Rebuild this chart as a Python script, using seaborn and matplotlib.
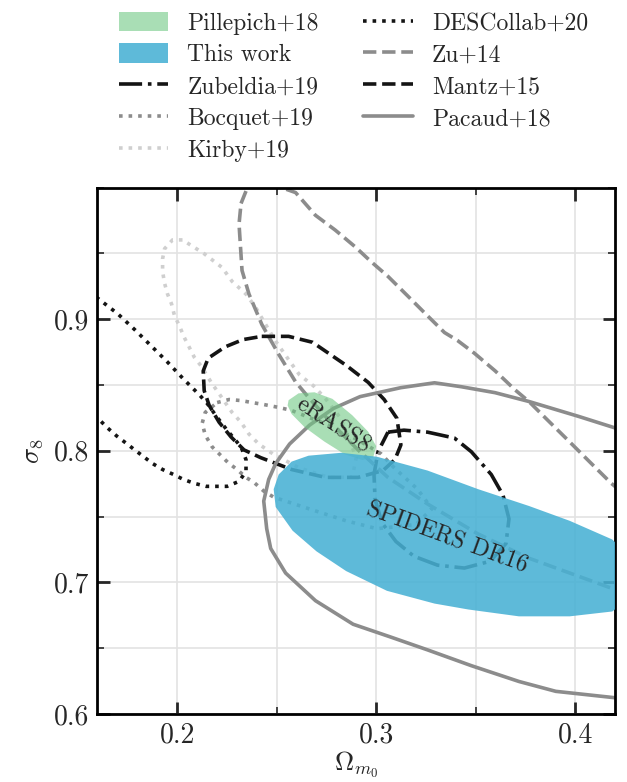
import numpy as np
import matplotlib
matplotlib.use("Agg")
import matplotlib.pyplot as plt
import seaborn as sns
from matplotlib.ticker import MultipleLocator

# contour vertices (Omega_m0, sigma_8)
pillepich_x = [0.2560, 0.2610, 0.2690, 0.2780, 0.2880, 0.2960, 0.3000, 0.2985, 0.2930, 0.2840, 0.2740, 0.2640, 0.2575, 0.2555]
pillepich_y = [0.8385, 0.8437, 0.8445, 0.8395, 0.8270, 0.8145, 0.8035, 0.7950, 0.7930, 0.7975, 0.8070, 0.8180, 0.8280, 0.8345]

thiswork_x = [0.2485, 0.2510, 0.2575, 0.2660, 0.2824, 0.3004, 0.3258, 0.3513, 0.3767, 0.3972, 0.4186, 0.4306,
              0.4306, 0.4186, 0.3972, 0.3717, 0.3463, 0.3293, 0.3054, 0.2849, 0.2700, 0.2580, 0.2495]
thiswork_y = [0.7708, 0.7820, 0.7918, 0.7963, 0.7985, 0.7955, 0.7850, 0.7708, 0.7581, 0.7468, 0.7326, 0.7146,
              0.6921, 0.6779, 0.6742, 0.6742, 0.6794, 0.6839, 0.6936, 0.7086, 0.7236, 0.7393, 0.7573]

zubeldia_x = [0.3059, 0.3139, 0.3258, 0.3393, 0.3478, 0.3578, 0.3637, 0.3667, 0.3652, 0.3573, 0.3443, 0.3308,
              0.3189, 0.3099, 0.3029, 0.2994, 0.2989, 0.3009, 0.3059]
zubeldia_y = [0.8142, 0.8157, 0.8142, 0.8097, 0.7993, 0.7820, 0.7663, 0.7483, 0.7296, 0.7161, 0.7109, 0.7131,
              0.7199, 0.7311, 0.7453, 0.7633, 0.7820, 0.7993, 0.8142]

bocquet_x = [0.2201, 0.2261, 0.2321, 0.2376, 0.2435, 0.2510, 0.2575, 0.2760, 0.2909, 0.3024, 0.3089, 0.3208,
             0.3280, 0.3200, 0.3004, 0.2849, 0.2665, 0.2485, 0.2436, 0.2386, 0.2346, 0.2301, 0.2256, 0.2216,
             0.2176, 0.2141, 0.2126, 0.2141, 0.2201]
bocquet_y = [0.8367, 0.8390, 0.8382, 0.8367, 0.8352, 0.8330, 0.8307, 0.8195, 0.8082, 0.7978, 0.7873, 0.7708,
             0.7560, 0.7440, 0.7408, 0.7468, 0.7558, 0.7648, 0.7693, 0.7760, 0.7798, 0.7858, 0.7910, 0.7970,
             0.8030, 0.8120, 0.8210, 0.8292, 0.8367]

kirby_x = [0.2027, 0.1977, 0.1937, 0.1927, 0.1927, 0.1937, 0.1952, 0.1972, 0.1987, 0.2011, 0.2036, 0.2061,
           0.2086, 0.2121, 0.2151, 0.2176, 0.2211, 0.2276, 0.2321, 0.2361, 0.2410, 0.2480, 0.2610, 0.2760,
           0.2880, 0.2900, 0.2820, 0.2745, 0.2685, 0.2615, 0.2565, 0.2496, 0.2445, 0.2396, 0.2346, 0.2276,
           0.2226, 0.2136, 0.2027]
kirby_y = [0.9603, 0.9603, 0.9536, 0.9460, 0.9363, 0.9273, 0.9191, 0.9116, 0.9026, 0.8951, 0.8861, 0.8787,
           0.8712, 0.8644, 0.8569, 0.8509, 0.8434, 0.8292, 0.8217, 0.8127, 0.8052, 0.7978, 0.7873, 0.7798,
           0.7800, 0.7950, 0.8250, 0.8397, 0.8494, 0.8577, 0.8682, 0.8831, 0.8959, 0.9086, 0.9191, 0.9288,
           0.9393, 0.9498, 0.9603]

des_x = [0.1550, 0.1600, 0.1702, 0.1787, 0.1872, 0.1952, 0.2031, 0.2111, 0.2151, 0.2201, 0.2251, 0.2321,
         0.2346, 0.2346, 0.2311, 0.2251, 0.2201, 0.2146, 0.2086, 0.2031, 0.1982, 0.1927, 0.1877, 0.1832,
         0.1787, 0.1742, 0.1697, 0.1652, 0.1612, 0.1560]
des_y = [0.9200, 0.9161, 0.9041, 0.8921, 0.8794, 0.8674, 0.8547, 0.8427, 0.8360, 0.8255, 0.8157, 0.8030,
         0.7933, 0.7843, 0.7768, 0.7730, 0.7730, 0.7730, 0.7753, 0.7783, 0.7820, 0.7858, 0.7903, 0.7955,
         0.8007, 0.8060, 0.8112, 0.8172, 0.8232, 0.8280]

zu_x = [0.2321, 0.2351, 0.2420, 0.2525, 0.2595, 0.2695, 0.2794, 0.2894, 0.2974, 0.3059, 0.3159, 0.3258,
        0.3343, 0.3408, 0.3493, 0.3598, 0.3697, 0.3767, 0.3852, 0.3967, 0.4071, 0.4181, 0.4306, 0.4306,
        0.4176, 0.3767, 0.3508, 0.3258, 0.3059, 0.2909, 0.2785, 0.2665, 0.2595, 0.2510, 0.2426, 0.2361,
        0.2326, 0.2311, 0.2321]
zu_y = [0.9880, 0.9993, 1.0038, 1.0000, 0.9963, 0.9790, 0.9678, 0.9551, 0.9438, 0.9326, 0.9176, 0.9026,
        0.8899, 0.8839, 0.8742, 0.8607, 0.8464, 0.8375, 0.8247, 0.8075, 0.7918, 0.7753, 0.7596, 0.7034,
        0.6959, 0.7184, 0.7371, 0.7596, 0.7798, 0.8007, 0.8195, 0.8397, 0.8524, 0.8734, 0.8959, 0.9191,
        0.9371, 0.9723, 0.9880]

mantz_x = [0.2425, 0.2560, 0.2680, 0.2849, 0.2960, 0.3040, 0.3104, 0.3124, 0.3094, 0.3034, 0.2909, 0.2745,
           0.2575, 0.2420, 0.2336, 0.2271, 0.2211, 0.2161, 0.2136, 0.2131, 0.2156, 0.2241, 0.2330, 0.2425]
mantz_y = [0.8870, 0.8870, 0.8825, 0.8650, 0.8520, 0.8390, 0.8247, 0.8045, 0.7933, 0.7850, 0.7798, 0.7798,
           0.7858, 0.7948, 0.8007, 0.8105, 0.8217, 0.8345, 0.8457, 0.8607, 0.8704, 0.8790, 0.8845, 0.8870]

pacaud_x = [0.4250, 0.4016, 0.3767, 0.3597, 0.3428, 0.3293, 0.3124, 0.2919, 0.2785, 0.2665, 0.2565, 0.2495,
            0.2460, 0.2435, 0.2450, 0.2470, 0.2545, 0.2695, 0.2884, 0.3074, 0.3258, 0.3478, 0.3717, 0.3902,
            0.4250]
pacaud_y = [0.8150, 0.8262, 0.8375, 0.8442, 0.8487, 0.8517, 0.8480, 0.8412, 0.8322, 0.8195, 0.8052, 0.7903,
            0.7783, 0.7618, 0.7408, 0.7258, 0.7071, 0.6861, 0.6682, 0.6584, 0.6487, 0.6367, 0.6247, 0.6172,
            0.6115]

sns.set_style("ticks")
plt.rcParams['font.family'] = 'serif'
plt.rcParams['font.serif'] = ['cmr10', 'DejaVu Serif']
plt.rcParams['mathtext.fontset'] = 'cm'
plt.rcParams['axes.formatter.use_mathtext'] = True
plt.rcParams['axes.unicode_minus'] = False

fig = plt.figure(figsize=(6.27, 7.82), dpi=100)
ax = fig.add_axes([0.1555, 0.0870, 0.8255, 0.6730])

GRAY = '#8c8c8c'
LGRAY = '#cfcfcf'
lw = 2.6

# line contours
sns.lineplot(x=zubeldia_x, y=zubeldia_y, sort=False, estimator=None, ax=ax, color='#141414', lw=lw,
             linestyle='-.', label='Zubeldia+19')
sns.lineplot(x=bocquet_x, y=bocquet_y, sort=False, estimator=None, ax=ax, color=GRAY, lw=lw,
             linestyle=':', label='Bocquet+19')
sns.lineplot(x=kirby_x, y=kirby_y, sort=False, estimator=None, ax=ax, color=LGRAY, lw=lw,
             linestyle=':', label='Kirby+19')
sns.lineplot(x=des_x, y=des_y, sort=False, estimator=None, ax=ax, color='#141414', lw=lw,
             linestyle=':', label='DESCollab+20')
sns.lineplot(x=zu_x, y=zu_y, sort=False, estimator=None, ax=ax, color=GRAY, lw=lw,
             linestyle='--', label='Zu+14')
sns.lineplot(x=mantz_x, y=mantz_y, sort=False, estimator=None, ax=ax, color='#141414', lw=lw,
             linestyle='--', label='Mantz+15')
sns.lineplot(x=pacaud_x, y=pacaud_y, sort=False, estimator=None, ax=ax, color=GRAY, lw=lw,
             linestyle='-', label='Pacaud+18')

# filled contours on top
p1 = ax.fill(pillepich_x, pillepich_y, color='#71c885', alpha=0.6, lw=0, label='Pillepich+18', zorder=5)[0]
p2 = ax.fill(thiswork_x, thiswork_y, color='#48b1d4', alpha=0.88, lw=0, label='This work', zorder=5)[0]

ax.text(0.2785, 0.8195, 'eRASS8', rotation=-33, ha='center', va='center', fontsize=17, zorder=6)
ax.text(0.3353, 0.7340, 'SPIDERS DR16', rotation=-20, ha='center', va='center', fontsize=17, zorder=6)

ax.set_xlim(0.16, 0.42)
ax.set_ylim(0.6, 1.0)
ax.xaxis.set_major_locator(MultipleLocator(0.1))
ax.xaxis.set_minor_locator(MultipleLocator(0.05))
ax.yaxis.set_major_locator(MultipleLocator(0.1))
ax.yaxis.set_minor_locator(MultipleLocator(0.05))
ax.set_xticks([0.2, 0.3, 0.4])
ax.set_xticklabels(['0.2', '0.3', '0.4'])
ax.set_yticks([0.6, 0.7, 0.8, 0.9])
ax.set_yticklabels(['0.6', '0.7', '0.8', '0.9'])
ax.grid(True, which='both', color='#e3e3e3', lw=1.2, zorder=0)
ax.set_axisbelow(True)
ax.tick_params(which='both', direction='in', top=True, right=True, labelsize=20, pad=6)
ax.tick_params(which='major', length=9, width=2)
ax.tick_params(which='minor', length=5, width=1.2)
for s in ax.spines.values():
    s.set_linewidth(2)
    s.set_color('black')
ax.set_xlabel(r'$\Omega_{m_0}$', fontsize=19, labelpad=1)
ax.set_ylabel(r'$\sigma_8$', fontsize=19, labelpad=6)

handles, labels = ax.get_legend_handles_labels()
hmap = dict(zip(labels, handles))
order = ['Pillepich+18', 'This work', 'Zubeldia+19', 'Bocquet+19', 'Kirby+19',
         'DESCollab+20', 'Zu+14', 'Mantz+15', 'Pacaud+18']
ax.legend([hmap[k] for k in order], order, ncol=2, loc='upper left', bbox_to_anchor=(0.0, 1.375),
          frameon=False, fontsize=17, handlelength=2.1, handleheight=0.9, labelspacing=0.38,
          columnspacing=1.9, handletextpad=0.8)

fig.savefig('out.png', dpi=100)
